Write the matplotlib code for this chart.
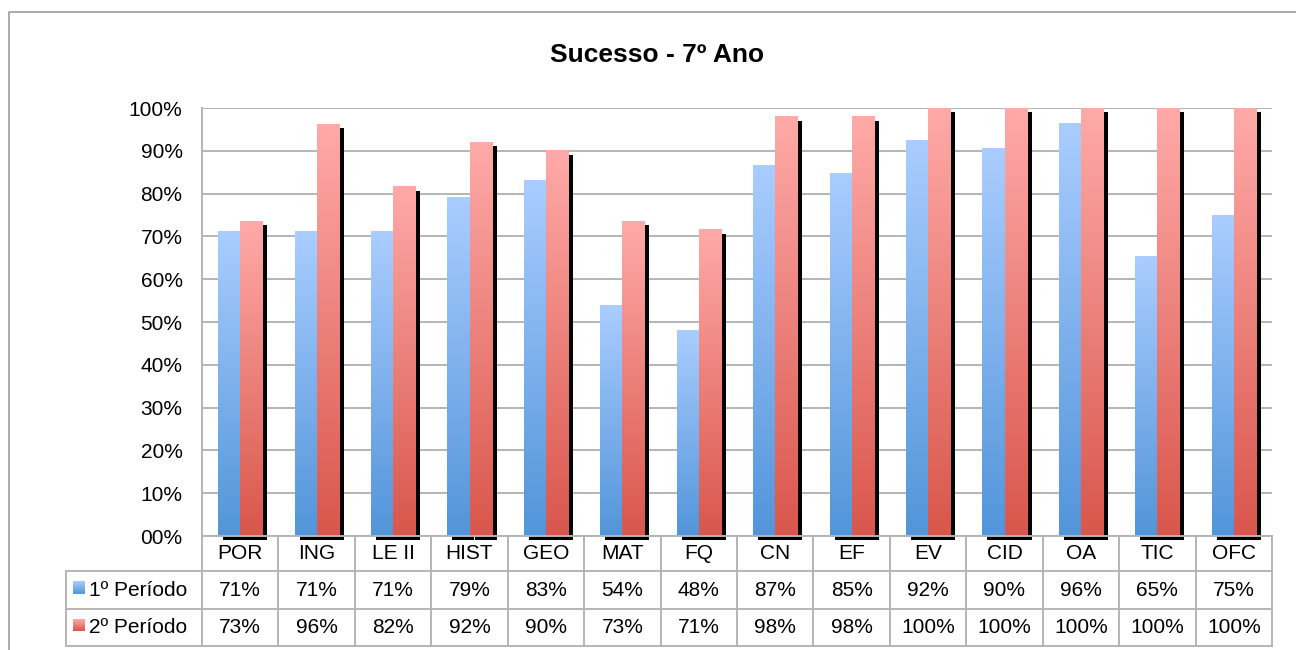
import numpy as np
import matplotlib
matplotlib.use("Agg")
import matplotlib.pyplot as plt
from matplotlib.lines import Line2D
from matplotlib.transforms import ScaledTranslation
from matplotlib.colors import to_rgb

plt.rcParams["font.family"] = ["Liberation Sans", "DejaVu Sans"]

categories = ["POR", "ING", "LE II", "HIST", "GEO", "MAT", "FQ", "CN", "EF", "EV", "CID", "OA", "TIC", "OFC"]
periodo1 = [71, 71, 71, 79, 83, 54, 48, 87, 85, 92, 90, 96, 65, 75]
periodo2 = [73, 96, 82, 92, 90, 73, 71, 98, 98, 100, 100, 100, 100, 100]
series_names = ["1º Período", "2º Período"]

# bar heights (table shows rounded values)
p1_h = [71.2, 71.2, 71.2, 79.0, 83.0, 53.8, 48.1, 86.5, 84.6, 92.3, 90.5, 96.3, 65.4, 75.0]
p2_h = [73.5, 96.2, 81.6, 92.0, 90.0, 73.5, 71.6, 98.0, 98.0, 100, 100, 100, 100, 100]

blue_top, blue_bot = "#AACDFF", "#5295DA"
red_top, red_bot = "#FFAAA8", "#D9564C"
grid_c = "#B4B4B4"
fs = 15

fig = plt.figure(figsize=(12.96, 6.5), dpi=100)
W, H = 1296, 650
ax = fig.add_axes([202 / W, 1 - 536 / H, (1272 - 202) / W, (536 - 108) / H])

x = np.arange(len(categories))
bw = 0.288


def gradient(top, bot, n=256):
    t = np.linspace(0, 1, n)[:, None]
    a = np.array(to_rgb(top))
    b = np.array(to_rgb(bot))
    return (a * (1 - t) + b * t)[:, None, :]


shadow = ax.transData + ScaledTranslation(0.05, -0.04, fig.dpi_scale_trans)
vals1 = np.array(p1_h) / 100
vals2 = np.array(p2_h) / 100

ax.bar(x - bw / 2, vals1, bw, color="black", transform=shadow, clip_on=False, zorder=1.5)
ax.bar(x + bw / 2, vals2, bw, color="black", transform=shadow, clip_on=False, zorder=1.5)

for xs, vals, top, bot in [(x - bw / 2, vals1, blue_top, blue_bot), (x + bw / 2, vals2, red_top, red_bot)]:
    for xi, v in zip(xs, vals):
        ax.imshow(gradient(top, bot), extent=[xi - bw / 2, xi + bw / 2, 0, v],
                  aspect="auto", zorder=2, clip_on=False, interpolation="bilinear")

ax.set_yticks(np.arange(0, 1.01, 0.1))
ax.set_yticklabels(["%02d%%" % round(v * 100) for v in np.arange(0, 1.01, 0.1)], fontsize=fs)
ax.tick_params(axis="y", length=0, pad=14)
ax.set_xticks([])
ax.set_axisbelow(True)
ax.yaxis.grid(True, color=grid_c, lw=1.4)
for s in ["top", "right"]:
    ax.spines[s].set_visible(False)
for s in ["left", "bottom"]:
    ax.spines[s].set_color(grid_c)
    ax.spines[s].set_linewidth(1.4)
    ax.spines[s].set_zorder(2.5)

# data table below the axes
y_cat = -35 / 428
y_r1 = -73 / 428
y_r2 = -110 / 428
x_left = -0.5 - (202 - 66) / 76.43
n = len(categories)
lk = dict(color=grid_c, lw=1.4, clip_on=False, zorder=3)
for k in range(n + 1):
    ax.plot([-0.5 + k, -0.5 + k], [0, y_r2], **lk)
for yy in [y_cat, y_r1, y_r2]:
    ax.plot([x_left, n - 0.5], [yy, yy], **lk)
ax.plot([x_left, x_left], [y_cat, y_r2], **lk)

for i, c in enumerate(categories):
    ax.text(i, y_cat / 2, c, ha="center", va="center", fontsize=fs)
    ax.text(i, (y_cat + y_r1) / 2, "%d%%" % periodo1[i], ha="center", va="center", fontsize=fs)
    ax.text(i, (y_r1 + y_r2) / 2, "%d%%" % periodo2[i], ha="center", va="center", fontsize=fs)

kx0 = -0.5 - (202 - 73) / 76.43
kx1 = -0.5 - (202 - 85) / 76.43
tx = -0.5 - (202 - 89) / 76.43
for (ya, yb), name, top, bot in [((y_cat, y_r1), series_names[0], blue_top, blue_bot),
                                  ((y_r1, y_r2), series_names[1], red_top, red_bot)]:
    yc = (ya + yb) / 2 + 2 / 428
    ax.imshow(gradient(top, bot), extent=[kx0, kx1, yc - 6 / 428, yc + 6 / 428],
              aspect="auto", zorder=3, clip_on=False)
    ax.text(tx, (ya + yb) / 2, name, ha="left", va="center", fontsize=fs)

ax.set_xlim(-0.5, len(categories) - 0.5)
ax.set_ylim(0, 1)

fig.text(657 / W, 1 - 55 / H, "Sucesso - 7º Ano", ha="center", va="center",
         fontsize=19, fontweight="bold")

# chart border
fig.add_artist(Line2D([9 / W, 9 / W, 1.0], [0, 1 - 12 / H, 1 - 12 / H],
                      transform=fig.transFigure, color="#ABABAB", lw=1.4))

fig.savefig("out.png", dpi=100)
